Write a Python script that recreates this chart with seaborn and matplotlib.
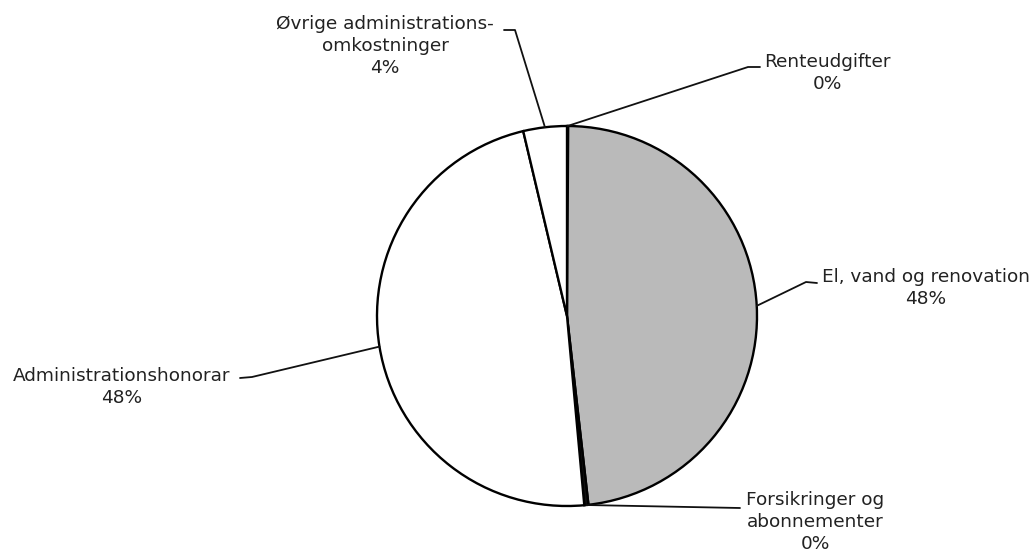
import matplotlib
matplotlib.use("Agg")
import matplotlib.pyplot as plt
import seaborn as sns
import numpy as np

sns.set_theme(style="white")
plt.rcParams['font.family'] = ['DejaVu Sans']

# Data (clockwise from 12 o'clock)
categories = ["Renteudgifter", "El, vand og renovation", "Forsikringer og\nabonnementer",
              "Administrationshonorar", "Øvrige administrations-\nomkostninger"]
values = [0.1, 48.1, 0.35, 47.75, 3.7]
pct_labels = ["0%", "48%", "0%", "48%", "4%"]
colors = ["#ffffff", "#bababa", "#111111", "#ffffff", "#ffffff"]

W, H = 1036, 553
CX, CY, R = 567, 316, 190

fig = plt.figure(figsize=(W / 100, H / 100), dpi=100)
ax = fig.add_axes([0, 0, 1, 1])

def px(x, y):
    return (x - CX) / R, (CY - y) / R

wedges, _ = ax.pie(values, colors=colors, startangle=90, counterclock=False,
                   radius=1.0, wedgeprops=dict(edgecolor="black", linewidth=1.7))
ax.set_xlim(-CX / R, (W - CX) / R)
ax.set_ylim(-(H - CY) / R, CY / R)
ax.set_aspect("auto")
ax.axis("off")

txtc = "#222222"
fs = 13.3

# label layout: text centre (px), leader elbow points (px)
layout = [
    dict(text=(827, 73), elbow=[(760, 67), (748, 67)]),
    dict(text=(926, 288), elbow=[(817, 283), (806, 282)]),
    dict(text=(815, 522), elbow=[(740, 508)]),
    dict(text=(122, 387), elbow=[(240, 378), (252, 377)]),
    dict(text=(385, 46), elbow=[(504, 30), (515, 30)]),
]

for w, cat, pct, lay in zip(wedges, categories, pct_labels, layout):
    mid = np.deg2rad((w.theta1 + w.theta2) / 2)
    ex, ey = np.cos(mid), np.sin(mid)
    pts = [px(*p) for p in lay["elbow"]] + [(ex, ey)]
    xs, ys = zip(*pts)
    ax.plot(xs, ys, color="#111111", lw=1.3, clip_on=False)
    tx, ty = px(*lay["text"])
    ax.text(tx, ty, cat + "\n" + pct, ha="center", va="center", fontsize=fs,
            color=txtc, multialignment="center", linespacing=1.28)

fig.savefig("out.png", dpi=100, facecolor="white")
